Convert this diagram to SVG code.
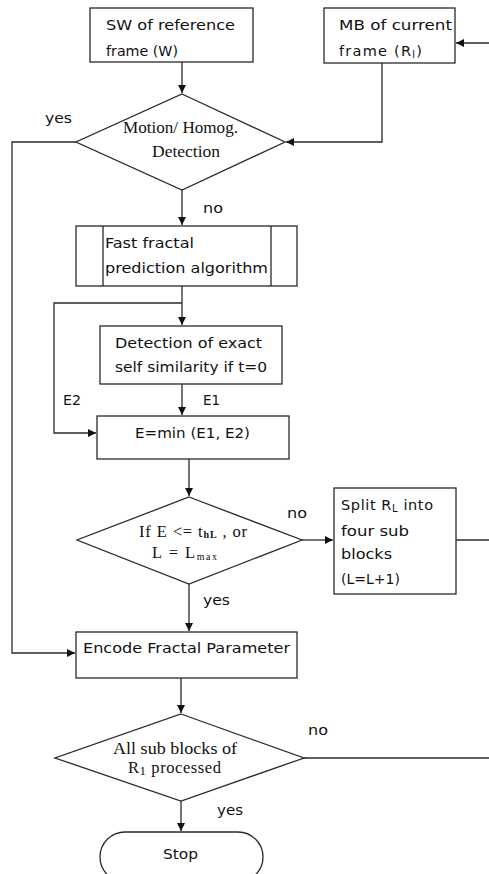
<svg xmlns="http://www.w3.org/2000/svg" width="489" height="874" viewBox="0 0 489 874">
<style>
.box{fill:#fff;stroke:#2a2a2a;stroke-width:1.3}
.ln{fill:none;stroke:#2a2a2a;stroke-width:1.3}
.t{font-family:"DejaVu Sans","Liberation Sans",sans-serif;font-size:14.5px;fill:#111}
.s{font-family:"Liberation Serif","DejaVu Serif",serif;font-size:16.5px;fill:#111}
.sub{font-size:10px}
</style>
<defs>
<marker id="ah" viewBox="0 0 10 10" refX="10" refY="5" markerWidth="8" markerHeight="8" markerUnits="userSpaceOnUse" orient="auto">
<path d="M0,0 L10,5 L0,10 z" fill="#111"/>
</marker>
</defs>
<rect width="489" height="874" fill="#fff"/>
<g id="connectors">
<path class="ln" d="M182,62 V93" marker-end="url(#ah)"/>
<path class="ln" d="M489,43 H456" marker-end="url(#ah)"/>
<path class="ln" d="M382,63 V142 H286" marker-end="url(#ah)"/>
<path class="ln" d="M76,142 H12 V653 H75" marker-end="url(#ah)"/>
<path class="ln" d="M182,190 V225" marker-end="url(#ah)"/>
<path class="ln" d="M182,286 V325" marker-end="url(#ah)"/>
<path class="ln" d="M182,303 H54 V433 H96" marker-end="url(#ah)"/>
<path class="ln" d="M182,384 V415" marker-end="url(#ah)"/>
<path class="ln" d="M189,459 V496" marker-end="url(#ah)"/>
<path class="ln" d="M302,540 H333" marker-end="url(#ah)"/>
<path class="ln" d="M456,540 H489"/>
<path class="ln" d="M189,584 V631" marker-end="url(#ah)"/>
<path class="ln" d="M181,678 V713" marker-end="url(#ah)"/>
<path class="ln" d="M304,758 H489"/>
<path class="ln" d="M181,801 V831" marker-end="url(#ah)"/>
<text class="t" x="45" y="123" textLength="27" lengthAdjust="spacingAndGlyphs">yes</text>
<text class="t" x="203" y="213" textLength="20" lengthAdjust="spacingAndGlyphs">no</text>
<text class="t" x="63" y="405" textLength="18" lengthAdjust="spacingAndGlyphs">E2</text>
<text class="t" x="203" y="405" textLength="17" lengthAdjust="spacingAndGlyphs">E1</text>
<text class="t" x="287" y="518" textLength="20" lengthAdjust="spacingAndGlyphs">no</text>
<text class="t" x="203" y="605" textLength="27" lengthAdjust="spacingAndGlyphs">yes</text>
<text class="t" x="308" y="735" textLength="20" lengthAdjust="spacingAndGlyphs">no</text>
<text class="t" x="217" y="815" textLength="26" lengthAdjust="spacingAndGlyphs">yes</text>
</g>
<g id="sw">
<rect class="box" x="90" y="8" width="163" height="54"/>
<text class="t" x="106" y="30" textLength="129" lengthAdjust="spacingAndGlyphs">SW of reference</text>
<text class="t" x="106" y="56" textLength="72" lengthAdjust="spacingAndGlyphs">frame (W)</text>
</g>
<g id="mb">
<rect class="box" x="324" y="8" width="131" height="55"/>
<text class="t" x="339" y="30" textLength="113" lengthAdjust="spacingAndGlyphs">MB of current</text>
<text class="t" x="339" y="56" textLength="83" lengthAdjust="spacing">frame (R<tspan class="sub" dy="2">l</tspan><tspan dy="-2">)</tspan></text>
</g>
<g id="motion">
<polygon class="box" points="182,94 285,142 182,190 76,142"/>
<text class="s" x="123" y="133" textLength="115" lengthAdjust="spacingAndGlyphs">Motion/ Homog.</text>
<text class="s" x="152" y="157" textLength="68" lengthAdjust="spacingAndGlyphs">Detection</text>
</g>
<g id="fast">
<rect class="box" x="76" y="226" width="221" height="60"/>
<path class="ln" d="M103,226 V286 M271,226 V286"/>
<text class="t" x="105" y="248" textLength="89" lengthAdjust="spacingAndGlyphs">Fast fractal</text>
<text class="t" x="105" y="273" textLength="163" lengthAdjust="spacingAndGlyphs">prediction algorithm</text>
</g>
<g id="detect">
<rect class="box" x="100" y="326" width="182" height="58"/>
<text class="t" x="115" y="348" textLength="147" lengthAdjust="spacingAndGlyphs">Detection of exact</text>
<text class="t" x="115" y="372" textLength="152" lengthAdjust="spacingAndGlyphs">self similarity if t=0</text>
</g>
<g id="emin">
<rect class="box" x="97" y="416" width="192" height="43"/>
<text class="t" x="135" y="438" textLength="115" lengthAdjust="spacingAndGlyphs">E=min (E1, E2)</text>
</g>
<g id="cond">
<polygon class="box" points="189,497 302,540 189,584 77,540"/>
<text class="s" x="139" y="537" textLength="108" lengthAdjust="spacing">If E &lt;= t<tspan class="sub" dy="1" font-weight="bold">hL</tspan><tspan dy="-1"> , or</tspan></text>
<text class="s" x="152" y="558" textLength="65" lengthAdjust="spacing">L = L<tspan class="sub" dy="2">max</tspan></text>
</g>
<g id="split">
<rect class="box" x="334" y="488" width="122" height="106"/>
<text class="t" x="341" y="510" textLength="92" lengthAdjust="spacing">Split R<tspan class="sub" dy="2">L</tspan><tspan dy="-2"> into</tspan></text>
<text class="t" x="341" y="536" textLength="68" lengthAdjust="spacingAndGlyphs">four sub</text>
<text class="t" x="341" y="559" textLength="51" lengthAdjust="spacingAndGlyphs">blocks</text>
<text class="t" x="341" y="584" textLength="59" lengthAdjust="spacingAndGlyphs">(L=L+1)</text>
</g>
<g id="encode">
<rect class="box" x="76" y="632" width="221" height="46"/>
<text class="t" x="83" y="653" textLength="207" lengthAdjust="spacingAndGlyphs">Encode Fractal Parameter</text>
</g>
<g id="allsub">
<polygon class="box" points="181,714 304,758 181,801 55,758"/>
<text class="s" x="113" y="754" textLength="124" lengthAdjust="spacingAndGlyphs">All sub blocks of</text>
<text class="s" x="128" y="773" textLength="93" lengthAdjust="spacing">R<tspan font-size="13px" dy="2">1</tspan><tspan dy="-2"> processed</tspan></text>
</g>
<g id="stop">
<rect class="box" x="100" y="832" width="163" height="50" rx="25" ry="25"/>
<text class="t" x="163" y="859" textLength="35" lengthAdjust="spacingAndGlyphs">Stop</text>
</g>
</svg>
